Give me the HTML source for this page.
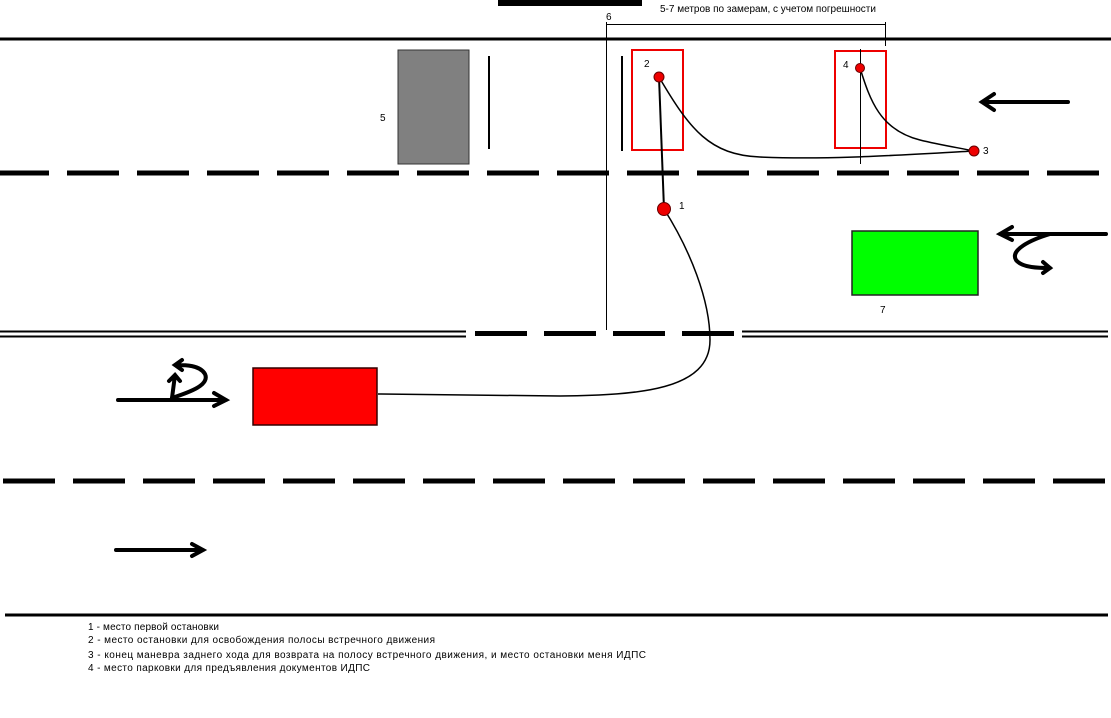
<!DOCTYPE html>
<html><head><meta charset="utf-8"><style>
html,body{margin:0;padding:0;background:#fff;width:1111px;height:718px;overflow:hidden}
text{font-family:"Liberation Sans",sans-serif;fill:#000}
</style></head><body>
<svg width="1111" height="718" viewBox="0 0 1111 718" xmlns="http://www.w3.org/2000/svg">
<rect x="498" y="0" width="144" height="6" fill="#000"/>
<line x1="0" y1="39" x2="1111" y2="39" stroke="#000" stroke-width="3"/>
<line x1="-3" y1="173" x2="1111" y2="173" stroke="#000" stroke-width="5" stroke-dasharray="52 18"/>
<line x1="0" y1="331.5" x2="466" y2="331.5" stroke="#000" stroke-width="2"/>
<line x1="0" y1="336.5" x2="466" y2="336.5" stroke="#000" stroke-width="2"/>
<line x1="742" y1="331.5" x2="1108" y2="331.5" stroke="#000" stroke-width="2"/>
<line x1="742" y1="336.5" x2="1108" y2="336.5" stroke="#000" stroke-width="2"/>
<line x1="475" y1="333.5" x2="740" y2="333.5" stroke="#000" stroke-width="5" stroke-dasharray="52 17"/>
<line x1="3" y1="481" x2="1111" y2="481" stroke="#000" stroke-width="5" stroke-dasharray="52 18"/>
<line x1="5" y1="615" x2="1108" y2="615" stroke="#000" stroke-width="3"/>

<rect x="398" y="50" width="71" height="114" fill="#808080" stroke="#333" stroke-width="1"/>
<text x="380" y="121" font-size="10">5</text>
<line x1="489" y1="56" x2="489" y2="149" stroke="#000" stroke-width="2"/>
<line x1="622" y1="56" x2="622" y2="151" stroke="#000" stroke-width="2"/>
<rect x="632" y="50" width="51" height="100" fill="none" stroke="#e00" stroke-width="2"/>
<rect x="835" y="51" width="51" height="97" fill="none" stroke="#e00" stroke-width="2"/>

<line x1="606.5" y1="22" x2="606.5" y2="330" stroke="#000" stroke-width="1"/>
<line x1="606" y1="24.5" x2="885" y2="24.5" stroke="#000" stroke-width="1"/>
<line x1="885.5" y1="22" x2="885.5" y2="46" stroke="#000" stroke-width="1"/>
<line x1="860.5" y1="49" x2="860.5" y2="164" stroke="#000" stroke-width="1"/>
<text x="606" y="20" font-size="10">6</text>
<text x="660" y="12" font-size="10">5-7 метров по замерам, с учетом погрешности</text>

<path d="M659 77 L664 209" stroke="#000" stroke-width="2" fill="none"/>
<path d="M659 77 C690 130 710 155 760 157 C830 160 900 155 974 151" stroke="#000" stroke-width="1.5" fill="none"/>
<path d="M860 68 C870 100 880 130 920 140 C940 145 960 148 974 151" stroke="#000" stroke-width="1.5" fill="none"/>
<path d="M664 209 C690 250 710 300 710 340 C710 390 640 395 560 396 L378 394" stroke="#000" stroke-width="1.5" fill="none"/>
<circle cx="659" cy="77" r="5" fill="#e00" stroke="#600"/>
<circle cx="664" cy="209" r="6.5" fill="#e00" stroke="#600"/>
<circle cx="860" cy="68" r="4.5" fill="#e00" stroke="#600"/>
<circle cx="974" cy="151" r="5" fill="#e00" stroke="#600"/>
<text x="644" y="67" font-size="10">2</text>
<text x="679" y="209" font-size="10">1</text>
<text x="843" y="68" font-size="10">4</text>
<text x="983" y="154" font-size="10">3</text>

<rect x="852" y="231" width="126" height="64" fill="#00ff00" stroke="#222" stroke-width="1.5"/>
<text x="880" y="313" font-size="10">7</text>
<rect x="253" y="368" width="124" height="57" fill="#ff0000" stroke="#300" stroke-width="1.5"/>

<g stroke="#000" stroke-width="4" fill="none" stroke-linecap="round">
<path d="M1068 102 L982 102 M994 94 L982 102 L994 110"/>
<path d="M1106 234 L1000 234 M1012 227 L1000 234 L1012 240"/>
<path d="M1050 234 C1030 240 1010 250 1016 260 C1022 268 1040 268 1050 268 M1043 262 L1050 268 L1043 273"/>
<path d="M118 400 L226 400 M214 393 L226 400 L214 406"/>
<path d="M172 398 L175 375 M169 381 L175 375 L180 381"/>
<path d="M172 398 C190 392 210 385 205 374 C200 365 185 365 176 365 M182 360 L175 365 L182 370"/>
<path d="M116 550 L203 550 M192 544 L203 550 L192 556"/>
</g>

<text x="88" y="630" font-size="10" textLength="131">1 - место первой остановки</text>
<text x="88" y="643" font-size="10" textLength="347">2 - место остановки для освобождения полосы встречного движения</text>
<text x="88" y="658" font-size="10" textLength="558">3 - конец маневра заднего хода для возврата на полосу встречного движения, и место остановки меня ИДПС</text>
<text x="88" y="671" font-size="10" textLength="282">4 - место парковки для предъявления документов  ИДПС</text>
</svg>
</body></html>
